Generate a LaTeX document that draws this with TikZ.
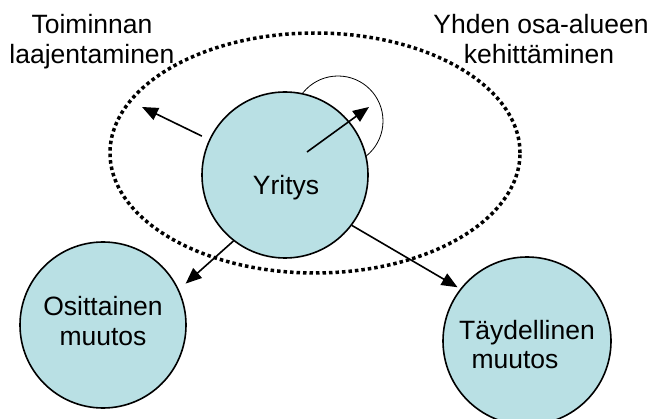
\documentclass[tikz,border=0pt]{standalone}
\usepackage{fontspec}
\setmainfont{Liberation Sans}
\usetikzlibrary{arrows.meta,shapes.geometric}
\definecolor{fillc}{RGB}{185,224,228}
\begin{document}
\begin{tikzpicture}[x=1pt,y=-1pt,
  circ/.style={circle, draw, line width=1.6pt, fill=fillc, minimum size=166pt, inner sep=0pt},
  txt/.style={anchor=base, inner sep=0pt, font=\fontsize{26.5}{30}\selectfont},
  arr/.style={line width=1.6pt, -{Triangle[length=16pt,width=13pt]}},
  dotline/.style={line width=3.5pt, dash pattern=on 3.5pt off 3pt}]
\useasboundingbox (0,0) rectangle (652,419);
% dotted region
\node[ellipse, draw, dotline, minimum width=410pt, minimum height=240pt, inner sep=0pt] (E) at (315,153) {};
% thin circle
\node[circle, draw, line width=0.8pt, minimum size=90pt, inner sep=0pt] (S) at (338,121) {};
% main circles
\node[circ] (Y) at (285,175) {};
\node[circ] (O) at (103,325) {};
\node[circ, minimum size=168pt] (T) at (527,341) {};
% texts
\node[txt] (t1) at (92,34) {Toiminnan};
\node[txt] (t2) at (92,64) {laajentaminen};
\node[txt] (t3) at (541,34) {Yhden osa-alueen};
\node[txt] (t4) at (539,64) {kehittäminen};
\node[txt] (yt) at (286,195) {Yritys};
\node[txt] (o1) at (103,315) {Osittainen};
\node[txt] (o2) at (103,345) {muutos};
\node[txt] (d1) at (527,339) {Täydellinen};
\node[txt] (d2) at (515,368) {muutos};
% connectors
\coordinate (lt) at (142,107);
\coordinate (it) at (307,152);
\coordinate (ih) at (369,107);
\draw[arr, shorten <=8pt] (Y.155) -- (lt);
\draw[arr] (it) -- (ih);
\draw[arr, shorten >=9pt] (Y.232) -- (O.25);
\draw[arr, shorten >=3pt] (Y.-37) -- (T.142);
\end{tikzpicture}
\end{document}
